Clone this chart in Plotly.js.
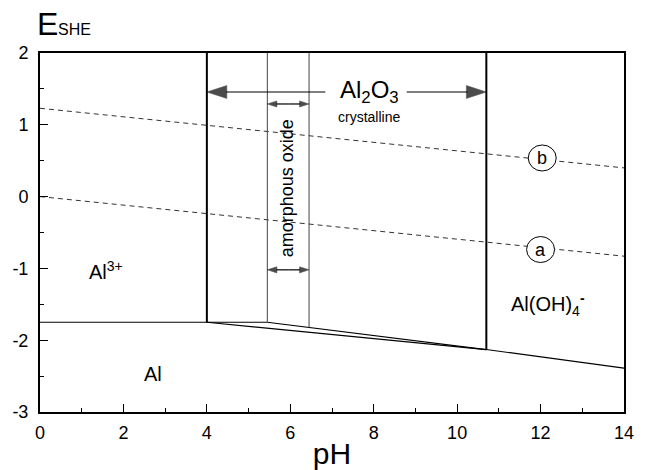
<!DOCTYPE html>
<html>
<head>
<meta charset="utf-8">
<script src="https://cdn.plot.ly/plotly-3.0.1.min.js"></script>
<style>html,body{margin:0;padding:0;background:#fff;}#chart{width:651px;height:470px;}</style>
</head>
<body>
<div id="chart"></div>
<script>
// Boundary lines (pH, E_SHE in V)
var al3Al_pH = [0, 5.45];
var al3Al_E = [-1.75, -1.75];
var crystAl_pH = [4, 10.7];
var crystAl_E = [-1.75, -2.13];
var amorphAl_pH = [5.45, 10.7];
var amorphAl_E = [-1.75, -2.13];
var aluminateAl_pH = [10.7, 14];
var aluminateAl_E = [-2.13, -2.39];
var crystLeft_pH = [4, 4];
var crystLeft_E = [-1.75, 2];
var crystRight_pH = [10.7, 10.7];
var crystRight_E = [-2.13, 2];
var amorphLeft_pH = [5.45, 5.45];
var amorphLeft_E = [-1.75, 2];
var amorphRight_pH = [6.45, 6.45];
var amorphRight_E = [-1.822, 2];
// Water stability lines
var lineA_pH = [0, 14];
var lineA_E = [0, -0.83];
var lineB_pH = [0, 14];
var lineB_E = [1.23, 0.40];
// Range arrows (tail -> tip)
var crystArrowL_pH = [6.84, 4];
var crystArrowR_pH = [8.79, 10.7];
var crystArrow_E = [1.457, 1.457];
var amorphArrowL_pH = [5.95, 5.45];
var amorphArrowR_pH = [5.95, 6.45];
var amorphArrowTop_E = [1.29, 1.29];
var amorphArrowBot_E = [-1.02, -1.02];
// Ticks
var xTickVals = [0, 2, 4, 6, 8, 10, 12, 14];
var xTickText = ["0", "2", "4", "6", "8", "10", "12", "14"];
var yTickVals = [-3, -2, -1, 0, 1, 2];
var yTickText = ["-3", "-2", "-1", "0", "1", "2"];

var FONT = "Liberation Sans, Arial, sans-serif";

function ln(x, y, w, color, dash) {
  return {x: x, y: y, mode: "lines", type: "scatter", hoverinfo: "skip",
    line: {color: color || "#000", width: w, dash: dash || "solid"}, showlegend: false};
}
function arr(x, y, headSize) {
  return {x: x, y: y, mode: "lines+markers", type: "scatter", hoverinfo: "skip", showlegend: false,
    line: {color: "#000", width: 1.2},
    marker: {symbol: "arrow", angleref: "previous", size: [0, headSize], color: "#000",
      line: {width: 0.5, color: "#000"}}};
}

var data = [
  ln(lineA_pH, lineA_E, 1, "#333", "5px,4px"),
  ln(lineB_pH, lineB_E, 1, "#333", "5px,4px"),
  ln(al3Al_pH, al3Al_E, 1.2),
  ln(crystAl_pH, crystAl_E, 1.2),
  ln(amorphAl_pH, amorphAl_E, 1.2),
  ln(aluminateAl_pH, aluminateAl_E, 1.2),
  ln(amorphLeft_pH, amorphLeft_E, 1, "#444"),
  ln(amorphRight_pH, amorphRight_E, 1, "#444"),
  ln(crystLeft_pH, crystLeft_E, 2),
  ln(crystRight_pH, crystRight_E, 2),
  arr(crystArrowL_pH, crystArrow_E, 21),
  arr(crystArrowR_pH, crystArrow_E, 21),
  arr(amorphArrowL_pH, amorphArrowTop_E, 10),
  arr(amorphArrowR_pH, amorphArrowTop_E, 10),
  arr(amorphArrowL_pH, amorphArrowBot_E, 10),
  arr(amorphArrowR_pH, amorphArrowBot_E, 10)
];

function txt(x, y, t, size, extra) {
  var a = {x: x, y: y, xref: "x", yref: "y", text: t, showarrow: false,
    font: {family: FONT, size: size, color: "#000"}};
  for (var k in extra) a[k] = extra[k];
  return a;
}

var annotations = [
  {xref: "paper", yref: "paper", x: 0, y: 1, xanchor: "left", yanchor: "bottom",
    xshift: -5, yshift: 9, showarrow: false, text: "E",
    font: {family: FONT, size: 32, color: "#000"}},
  {xref: "paper", yref: "paper", x: 0, y: 1, xanchor: "left", yanchor: "bottom",
    xshift: 16, yshift: 13, showarrow: false, text: "SHE",
    font: {family: FONT, size: 16, color: "#000"}},
  txt(7.89, 1.457, "Al<sub>2</sub>O<sub>3</sub>", 24),
  txt(7.89, 1.11, "crystalline", 14),
  txt(5.93, 0.12, "amorphous oxide", 18, {textangle: -90}),
  txt(1.59, -1.03, "Al<sup>3+</sup>", 20),
  txt(2.72, -2.47, "Al", 20),
  txt(12.18, -1.5, "Al(OH)<sub>4</sub><sup><b>-</b></sup>", 20),
  txt(12.0, -0.737, "a", 18),
  txt(12.04, 0.538, "b", 18)
];

var rx = 14 / 41.75, ry = 13 / 71.8;
var shapes = [
  {type: "circle", xref: "x", yref: "y", x0: 12.0 - rx, x1: 12.0 + rx, y0: -0.737 - ry, y1: -0.737 + ry,
    fillcolor: "#fff", line: {color: "#000", width: 1}, layer: "above"},
  {type: "circle", xref: "x", yref: "y", x0: 12.04 - rx, x1: 12.04 + rx, y0: 0.538 - ry, y1: 0.538 + ry,
    fillcolor: "#fff", line: {color: "#000", width: 1}, layer: "above"}
];

var layout = {
  width: 651, height: 470,
  margin: {l: 40, r: 27, t: 53, b: 58, pad: 0},
  paper_bgcolor: "#fff", plot_bgcolor: "#fff",
  font: {family: FONT, size: 18, color: "#000"},
  showlegend: false,
  xaxis: {
    range: [0, 14], tickmode: "array", tickvals: xTickVals, ticktext: xTickText,
    ticks: "inside", ticklen: 8, tickwidth: 1, tickcolor: "#000",
    showline: true, linewidth: 2, linecolor: "#000", mirror: true,
    showgrid: false, zeroline: false, fixedrange: true, ticklabelstandoff: 3,
    tickfont: {family: FONT, size: 18, color: "#000"},
    minor: {tickmode: "linear", tick0: 0, dtick: 1, ticks: "inside", ticklen: 4, tickcolor: "#000", showgrid: false},
    title: {text: "pH", font: {family: FONT, size: 30, color: "#000"}, standoff: 6}
  },
  yaxis: {
    range: [-3, 2], tickmode: "array", tickvals: yTickVals, ticktext: yTickText,
    ticks: "inside", ticklen: 8, tickwidth: 1, tickcolor: "#000",
    showline: true, linewidth: 2, linecolor: "#000", mirror: true,
    showgrid: false, zeroline: false, fixedrange: true, ticklabelstandoff: 6,
    tickfont: {family: FONT, size: 18, color: "#000"},
    minor: {tickmode: "linear", tick0: 0, dtick: 0.5, ticks: "inside", ticklen: 4, tickcolor: "#000", showgrid: false}
  },
  annotations: annotations,
  shapes: shapes
};

Plotly.newPlot("chart", data, layout, {displayModeBar: false, staticPlot: true});
</script>
</body>
</html>
